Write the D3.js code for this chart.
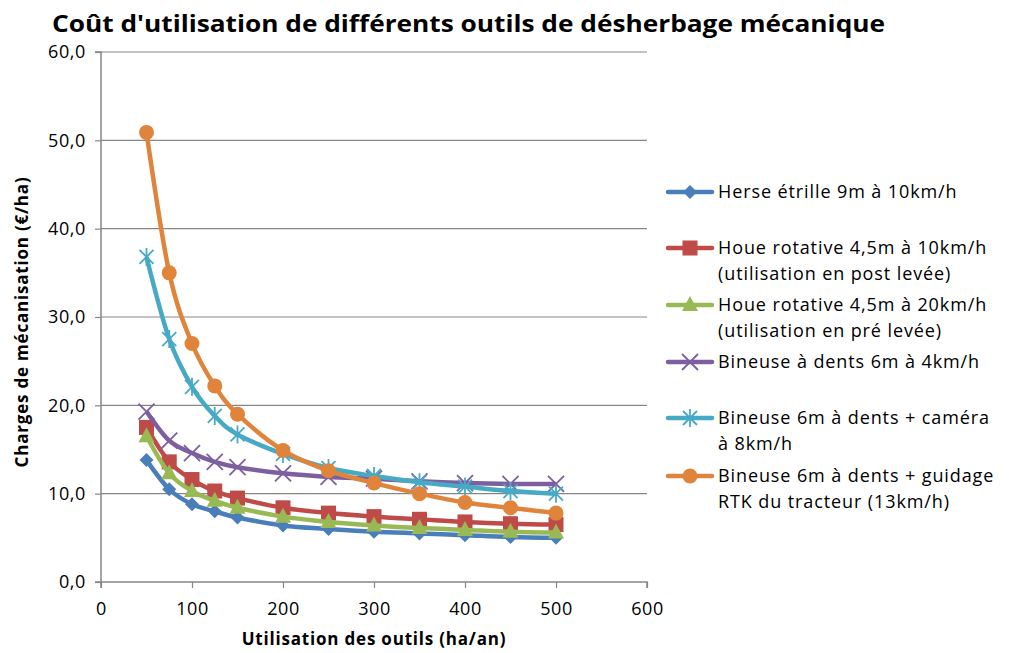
<!DOCTYPE html>
<html>
<head>
<meta charset="utf-8">
<script src="https://cdn.jsdelivr.net/npm/d3@7"></script>
<style>
  body { margin: 0; background: #fff; }
  text { font-family: "Open Sans", "Noto Sans", sans-serif; }
</style>
</head>
<body>
<div class="container"></div>
<script>
// usage (ha/an)
var usage = [50, 75, 100, 125, 150, 200, 250, 300, 350, 400, 450, 500];

var herse = [13.8, 10.5, 8.8, 8.0, 7.3, 6.4, 6.0, 5.7, 5.5, 5.3, 5.1, 5.0];
var houePost = [17.5, 13.6, 11.6, 10.3, 9.5, 8.4, 7.8, 7.4, 7.1, 6.8, 6.6, 6.5];
var houePre = [16.5, 12.3, 10.3, 9.2, 8.4, 7.4, 6.8, 6.4, 6.1, 5.9, 5.7, 5.6];
var bineuse = [19.3, 16.0, 14.6, 13.6, 13.0, 12.3, 11.9, 11.7, 11.4, 11.2, 11.1, 11.1];
var bineuseCamera = [36.8, 27.5, 22.1, 18.8, 16.7, 14.5, 12.9, 12.0, 11.3, 10.8, 10.3, 10.0];
var bineuseRtk = [50.9, 35.0, 27.0, 22.2, 19.0, 14.9, 12.6, 11.2, 10.0, 9.0, 8.4, 7.8];

var seriesNames = [
  ["Herse étrille 9m à 10km/h"],
  ["Houe rotative 4,5m à 10km/h", "(utilisation en post levée)"],
  ["Houe rotative 4,5m à 20km/h", "(utilisation en pré levée)"],
  ["Bineuse à dents 6m à 4km/h"],
  ["Bineuse 6m à dents + caméra", "à 8km/h"],
  ["Bineuse 6m à dents + guidage", "RTK du tracteur (13km/h)"]
];
var xTicks = [0, 100, 200, 300, 400, 500, 600];
var yTicks = [0, 10, 20, 30, 40, 50, 60];

var series = [
  { name: seriesNames[0], values: herse, color: "#4A7EBB", marker: "diamond" },
  { name: seriesNames[1], values: houePost, color: "#BE4B48", marker: "square" },
  { name: seriesNames[2], values: houePre, color: "#98B954", marker: "triangle" },
  { name: seriesNames[3], values: bineuse, color: "#7D5FA0", marker: "x" },
  { name: seriesNames[4], values: bineuseCamera, color: "#46AAC5", marker: "star" },
  { name: seriesNames[5], values: bineuseRtk, color: "#E0843B", marker: "circle" }
];

var width = 1009, height = 653;
var plot = { left: 101, right: 647, top: 52, bottom: 582 };

var svg = d3.select(".container").append("svg")
  .attr("width", width)
  .attr("height", height);

var x = d3.scaleLinear().domain([0, 600]).range([plot.left, plot.right]);
var y = d3.scaleLinear().domain([0, 60]).range([plot.bottom, plot.top]);

// title
svg.append("text")
  .attr("x", 52).attr("y", 32)
  .style("font-size", "24px").style("font-weight", "bold")
  .attr("textLength", 833)
  .attr("lengthAdjust", "spacingAndGlyphs")
  .text("Coût d'utilisation de différents outils de désherbage mécanique");

// gridlines
svg.append("g").selectAll("line")
  .data(yTicks.filter(function (d) { return d > 0; }))
  .enter().append("line")
  .attr("x1", plot.left).attr("x2", plot.right)
  .attr("y1", function (d) { return y(d); })
  .attr("y2", function (d) { return y(d); })
  .attr("stroke", "#878787").attr("stroke-width", 1.2);

// axes
var yAxis = svg.append("g")
  .attr("transform", `translate(${plot.left},0)`)
  .call(d3.axisLeft(y).tickValues(yTicks).tickSize(6).tickPadding(9)
    .tickFormat(function (d) { return d3.format(".1f")(d).replace(".", ","); }));
var xAxis = svg.append("g")
  .attr("transform", `translate(0,${plot.bottom})`)
  .call(d3.axisBottom(x).tickValues(xTicks).tickSize(6).tickPadding(14));

[xAxis, yAxis].forEach(function (a) {
  a.select(".domain").attr("stroke", "#878787").attr("stroke-width", 1.5);
  a.selectAll(".tick line").attr("stroke", "#878787").attr("stroke-width", 1.2);
  a.selectAll(".tick text").style("font-size", "18px").attr("fill", "#000")
    .style("letter-spacing", "0.6px")
    .style("font-family", "'Open Sans', sans-serif");
});
xAxis.select(".domain").attr("d", `M${plot.left},6V0H${plot.right}V6`);
yAxis.select(".domain").attr("d", `M-6,${plot.bottom}H0V${plot.top}H-6`);

// axis titles
svg.append("text")
  .attr("x", 374).attr("y", 645)
  .attr("text-anchor", "middle")
  .style("font-size", "17px").style("font-weight", "bold")
  .style("letter-spacing", "0.8px")
  .text("Utilisation des outils (ha/an)");

svg.append("text")
  .attr("transform", "translate(28,322) rotate(-90)")
  .attr("text-anchor", "middle")
  .style("font-size", "17px").style("font-weight", "bold")
  .style("letter-spacing", "0.8px")
  .text("Charges de mécanisation (€/ha)");

// lines
var line = d3.line()
  .x(function (d) { return x(d[0]); })
  .y(function (d) { return y(d[1]); })
  .curve(d3.curveCatmullRom.alpha(0));

function drawMarker(g, type, color) {
  if (type === "diamond") {
    g.append("path").attr("d", "M0,-7L7,0L0,7L-7,0Z").attr("fill", color);
  } else if (type === "square") {
    g.append("rect").attr("x", -7.5).attr("y", -7.5).attr("width", 15).attr("height", 15).attr("fill", color);
  } else if (type === "triangle") {
    g.append("path").attr("d", "M0,-9L8,6L-8,6Z").attr("fill", color);
  } else if (type === "x") {
    g.append("path").attr("d", "M-8,-8L8,8M-8,8L8,-8").attr("stroke", color).attr("stroke-width", 1.8);
  } else if (type === "star") {
    g.append("path").attr("d", "M-7,-7L7,7M-7,7L7,-7M0,-9V9").attr("stroke", color).attr("stroke-width", 1.8);
  } else if (type === "circle") {
    g.append("circle").attr("r", 7.5).attr("fill", color);
  }
}

series.forEach(function (s) {
  var pts = usage.map(function (u, i) { return [u, s.values[i]]; });
  var g = svg.append("g");
  g.append("path")
    .attr("d", line(pts))
    .attr("fill", "none")
    .attr("stroke", s.color)
    .attr("stroke-width", 4.5)
    .attr("stroke-linejoin", "round");
  pts.forEach(function (p) {
    var m = g.append("g").attr("transform", `translate(${x(p[0])},${y(p[1])})`);
    drawMarker(m, s.marker, s.color);
  });
});

// legend
var legendY = [192, 248, 305, 362, 418, 476];
series.forEach(function (s, i) {
  var lg = svg.append("g").attr("transform", `translate(668,${legendY[i]})`);
  lg.append("line").attr("x1", 0).attr("x2", 44).attr("y1", 0).attr("y2", 0)
    .attr("stroke", s.color).attr("stroke-width", 4.5).attr("stroke-linecap", "round");
  var m = lg.append("g").attr("transform", "translate(22,0)");
  drawMarker(m, s.marker, s.color);
  s.name.forEach(function (t, j) {
    lg.append("text")
      .attr("x", 50).attr("y", 6 + j * 26)
      .style("font-size", "18px")
      .style("letter-spacing", "0.9px")
      .text(t);
  });
});
</script>
</body>
</html>
